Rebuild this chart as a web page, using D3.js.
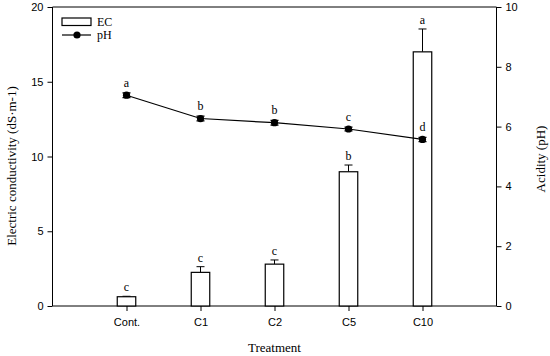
<html>
<script src="https://d3js.org/d3.v7.min.js"></script>
<style>
body { margin: 0; background: #fff; }
</style>
<body>
<svg width="550" height="356"></svg>
<script>
// data
const treatments = ["Cont.", "C1", "C2", "C5", "C10"];
const ecValues = [0.62, 2.25, 2.8, 8.98, 17.0];
const ecErrors = [0.03, 0.38, 0.28, 0.45, 1.53];
const ecLetters = ["c", "c", "c", "b", "a"];
const phValues = [7.05, 6.27, 6.13, 5.92, 5.57];
const phErrors = [0.08, 0.08, 0.08, 0.06, 0.07];
const phLetters = ["a", "b", "b", "c", "d"];
const ecTicks = [0, 5, 10, 15, 20];
const phTicks = [0, 2, 4, 6, 8, 10];

const SERIF = "'Liberation Serif', 'Times New Roman', Times, serif";
const SANS = "'Liberation Sans', Arial, Helvetica, sans-serif";

const svg = d3.select("svg");
const pLeft = 52.5, pRight = 496.5, pTop = 7, pBottom = 306;

// category positions: one empty slot on each side
const x = d3.scaleLinear().domain([-1, 5]).range([pLeft, pRight]);
const yEC = d3.scaleLinear().domain([0, 20]).range([pBottom, pTop]);
const yPH = d3.scaleLinear().domain([0, 10]).range([pBottom, pTop]);

const barW = 18.5;

// frame top line
svg.append("line").attr("x1", pLeft).attr("x2", pRight).attr("y1", pTop).attr("y2", pTop)
  .attr("stroke", "#000").attr("stroke-width", 1);

// axes
svg.append("g").attr("transform", `translate(${pLeft},0)`)
  .call(d3.axisLeft(yEC).tickValues(ecTicks).tickSize(5).tickPadding(4))
  .call(g => g.select(".domain").attr("d", `M0,${pTop}V${pBottom}`));
svg.append("g").attr("transform", `translate(${pRight},0)`)
  .call(d3.axisRight(yPH).tickValues(phTicks).tickSize(5).tickPadding(4))
  .call(g => g.select(".domain").attr("d", `M0,${pTop}V${pBottom}`));
svg.append("g").attr("transform", `translate(0,${pBottom})`)
  .call(d3.axisBottom(x).tickValues(d3.range(treatments.length))
    .tickFormat(i => treatments[i]).tickSize(5).tickPadding(7))
  .call(g => g.select(".domain").attr("d", `M${pLeft},0H${pRight}`));

svg.selectAll(".domain, .tick line").attr("stroke", "#000");
svg.selectAll(".tick text").style("font-family", SANS).style("font-size", "11px").attr("fill", "#000");

// EC bars
const bars = svg.append("g");
bars.selectAll("line.err").data(ecValues).join("line")
  .attr("x1", (d, i) => x(i)).attr("x2", (d, i) => x(i))
  .attr("y1", d => yEC(d)).attr("y2", (d, i) => yEC(d + ecErrors[i]))
  .attr("stroke", "#000");
bars.selectAll("line.cap").data(ecValues).join("line")
  .attr("x1", (d, i) => x(i) - 4).attr("x2", (d, i) => x(i) + 4)
  .attr("y1", (d, i) => yEC(d + ecErrors[i])).attr("y2", (d, i) => yEC(d + ecErrors[i]))
  .attr("stroke", "#000");
bars.selectAll("rect").data(ecValues).join("rect")
  .attr("x", (d, i) => x(i) - barW / 2).attr("width", barW)
  .attr("y", d => yEC(d)).attr("height", d => pBottom - yEC(d))
  .attr("fill", "#fff").attr("stroke", "#000").attr("stroke-width", 1.2);
bars.selectAll("text").data(ecLetters).join("text")
  .style("font-family", SERIF).style("font-size", "12px").attr("text-anchor", "middle")
  .attr("x", (d, i) => x(i))
  .attr("y", (d, i) => yEC(ecValues[i] + ecErrors[i]) - 5)
  .text(d => d);

// pH line
const ph = svg.append("g");
ph.append("path").datum(phValues)
  .attr("d", d3.line().x((d, i) => x(i)).y(d => yPH(d)))
  .attr("fill", "none").attr("stroke", "#000").attr("stroke-width", 1.2);
phValues.forEach((d, i) => {
  const y1 = yPH(d + phErrors[i]), y2 = yPH(d - phErrors[i]);
  ph.append("path")
    .attr("d", `M${x(i)},${y1}V${y2}M${x(i) - 4},${y1}H${x(i) + 4}M${x(i) - 4},${y2}H${x(i) + 4}`)
    .attr("stroke", "#000").attr("stroke-width", 1.2);
});
ph.selectAll("circle").data(phValues).join("circle")
  .attr("cx", (d, i) => x(i)).attr("cy", d => yPH(d)).attr("r", 3.6).attr("fill", "#000");
ph.selectAll("text").data(phLetters).join("text")
  .style("font-family", SERIF).style("font-size", "12px").attr("text-anchor", "middle")
  .attr("x", (d, i) => x(i))
  .attr("y", (d, i) => yPH(phValues[i] + phErrors[i]) - 6)
  .text(d => d);

// titles
const title = (t) => svg.append("text").style("font-family", SERIF).style("font-size", "13px")
  .attr("text-anchor", "middle").text(t);
title("Electric conductivity (dS·m-1)").attr("transform", "translate(16,166) rotate(-90)");
title("Acidity (pH)").attr("transform", "translate(545,159) rotate(-90)");
title("Treatment").attr("x", x(2)).attr("y", 352);

// legend
const lg = svg.append("g");
lg.append("rect").attr("x", 62).attr("y", 18).attr("width", 29).attr("height", 7.5)
  .attr("fill", "#fff").attr("stroke", "#000").attr("stroke-width", 1.2);
lg.append("line").attr("x1", 62).attr("x2", 91).attr("y1", 35).attr("y2", 35)
  .attr("stroke", "#000").attr("stroke-width", 1.2);
lg.append("circle").attr("cx", 77).attr("cy", 35).attr("r", 3.6).attr("fill", "#000");
lg.append("text").style("font-family", SERIF).style("font-size", "12px").attr("x", 97).attr("y", 26).text("EC");
lg.append("text").style("font-family", SERIF).style("font-size", "12px").attr("x", 97).attr("y", 39).text("pH");
</script>
</body>
</html>
